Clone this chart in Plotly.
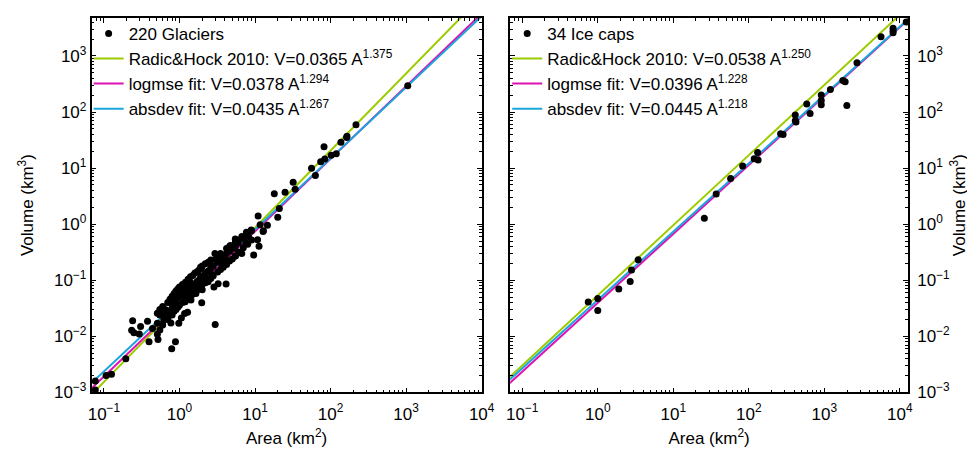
import plotly.graph_objects as go

# glaciers: area (km2) and volume (km3)
glacier_area = [
    1050, 217, 165, 163, 137, 82, 74, 84, 102, 119, 56, 63,
    32, 34, 18, 25, 21, 20, 11, 11.7, 14.6, 7.7, 8.9, 12.9,
    0.077, 0.077, 0.107, 0.126, 0.195, 0.24, 0.233, 0.25, 0.306, 0.294,
    0.378, 0.396, 0.44, 0.51, 0.51, 0.52, 0.51, 0.62, 0.62, 0.655,
    0.79, 0.885, 0.77, 0.74, 0.81, 0.98, 1.06, 1.17, 1.28, 0.885,
    0.95, 1.10, 1.19, 1.42, 1.42, 1.65, 1.97, 1.95, 2.22, 2.67,
    2.86, 3.25, 2.97, 4.14, 3.0, 2.95, 3.66, 4.05, 4.72, 5.48,
    6.68, 7.55, 9.6, 11.3, 10.8, 12.8, 5.48, 6.7, 8.2,
    0.55, 0.55, 0.55, 0.6, 0.6, 0.6, 0.7, 0.7, 0.7, 0.75, 0.75,
    0.8, 0.8, 0.8, 0.85, 0.85, 0.85, 0.9, 0.9, 0.9, 0.95, 0.95, 0.95,
    1.0, 1.0, 1.0, 1.0, 1.1, 1.1, 1.1, 1.1, 1.2, 1.2, 1.2, 1.2,
    1.3, 1.3, 1.3, 1.3, 1.4, 1.4, 1.4, 1.4, 1.5, 1.5, 1.5,
    1.6, 1.6, 1.6, 1.7, 1.7, 1.7, 1.8, 1.8, 1.8, 1.9, 1.9, 1.9,
    2.0, 2.0, 2.0, 2.0, 2.2, 2.2, 2.2, 2.4, 2.4, 2.4, 2.6, 2.6, 2.6,
    2.8, 2.8, 3.2, 3.2, 3.2, 3.5, 3.5, 3.5, 3.8, 3.8,
    4.2, 4.2, 4.2, 4.6, 4.6, 4.6, 5.0, 5.0, 5.5, 5.5, 5.5,
    6.0, 6.0, 6.0, 7.0, 7.0, 8.0, 8.0, 9.0, 9.0,
]
glacier_volume = [
    295, 59, 37, 35, 29, 24, 13, 14.5, 17, 18, 9.9, 7.4,
    5.6, 4.2, 3.5, 3.7, 1.9, 1.33, 1.4, 0.98, 0.96, 0.72, 0.79, 0.76,
    0.0016, 0.0011, 0.002, 0.0021, 0.004, 0.019, 0.0128, 0.0116, 0.015, 0.011,
    0.0186, 0.008, 0.0138, 0.0171, 0.0109, 0.0088, 0.0259, 0.0246, 0.0196, 0.0297,
    0.006, 0.008, 0.0173, 0.0285, 0.036, 0.0171, 0.0212, 0.0256, 0.027, 0.0543,
    0.062, 0.083, 0.0415, 0.0444, 0.0708, 0.058, 0.0398, 0.164, 0.106, 0.126,
    0.076, 0.0865, 0.0163, 0.0855, 0.236, 0.30, 0.193, 0.243, 0.415, 0.271,
    0.30, 0.462, 0.282, 0.405, 0.528, 0.74, 0.543, 0.605, 0.605,
    0.024, 0.013, 0.030, 0.026, 0.016, 0.034, 0.040, 0.020, 0.028, 0.046, 0.024,
    0.036, 0.024, 0.052, 0.040, 0.058, 0.028, 0.044, 0.064, 0.030, 0.050, 0.070, 0.033,
    0.052, 0.076, 0.036, 0.062, 0.054, 0.084, 0.040, 0.068, 0.058, 0.092, 0.044, 0.076,
    0.064, 0.104, 0.048, 0.082, 0.070, 0.116, 0.052, 0.090, 0.080, 0.056, 0.122,
    0.086, 0.134, 0.062, 0.094, 0.066, 0.140, 0.100, 0.070, 0.150, 0.112, 0.076, 0.170,
    0.118, 0.084, 0.180, 0.068, 0.134, 0.090, 0.196, 0.146, 0.094, 0.210, 0.166, 0.108, 0.230,
    0.180, 0.120, 0.210, 0.140, 0.250, 0.230, 0.155, 0.300, 0.260, 0.170,
    0.300, 0.190, 0.370, 0.330, 0.220, 0.400, 0.370, 0.240, 0.410, 0.270, 0.480,
    0.460, 0.320, 0.520, 0.560, 0.380, 0.660, 0.440, 0.760, 0.520,
]

# ice caps
icecap_area = [
    12170, 8150, 8150, 8150, 5640, 2710, 1760, 1890, 1990, 1205, 912, 912,
    912, 586, 649, 413, 413, 422, 264, 285, 131, 118, 133, 83,
    57.5, 37, 25.8, 3.43, 2.80, 2.69, 1.90, 1.0, 1.0, 0.748,
]
icecap_volume = [
    4020, 3100, 2800, 2580, 2200, 752, 365, 346, 130, 251, 200, 161,
    134, 139, 94, 88, 70, 66, 41, 39.5, 18.9, 14.7, 13.9, 10.9,
    6.5, 3.45, 1.28, 0.231, 0.152, 0.095, 0.070, 0.0473, 0.0289, 0.041,
]

fit_names = ["Radic&Hock 2010", "logmse fit", "absdev fit"]
fit_colors = ["#9ccc00", "#e010b4", "#1aa6dc"]
glacier_coef = [0.0365, 0.0378, 0.0435]
glacier_exp = [1.375, 1.294, 1.267]
icecap_coef = [0.0538, 0.0396, 0.0445]
icecap_exp = [1.250, 1.228, 1.218]
area_span = [0.05, 20000]

x_ticks = [0.1, 1, 10, 100, 1000, 10000]
x_ticklabels = ["10<sup>−1</sup>", "10<sup>0</sup>", "10<sup>1</sup>",
                "10<sup>2</sup>", "10<sup>3</sup>", "10<sup>4</sup>"]
y_ticks = [0.001, 0.01, 0.1, 1, 10, 100, 1000]
y_ticklabels = ["10<sup>−3</sup>", "10<sup>−2</sup>", "10<sup>−1</sup>", "10<sup>0</sup>",
                "10<sup>1</sup>", "10<sup>2</sup>", "10<sup>3</sup>"]

FONT = "Arial, Liberation Sans, Helvetica, sans-serif"


def add_panel(fig, col, area, volume, label, coefs, exps, legend):
    xa = "x" if col == 1 else "x2"
    ya = "y" if col == 1 else "y2"
    for name, color, c, b, rank in zip(fit_names, fit_colors, coefs, exps, [2, 3, 4]):
        fig.add_trace(go.Scatter(
            x=area_span, y=[c * a ** b for a in area_span],
            mode="lines", line=dict(color=color, width=2),
            name=f"{name}: V={c:.4f} A<sup>{b:.3f}</sup>",
            xaxis=xa, yaxis=ya, legend=legend, legendrank=rank,
        ))
    fig.add_trace(go.Scatter(
        x=area, y=volume, mode="markers",
        marker=dict(color="black", size=7),
        name=label, xaxis=xa, yaxis=ya, legend=legend, legendrank=1,
    ))


fig = go.Figure()
add_panel(fig, 1, glacier_area, glacier_volume, "220 Glaciers",
          glacier_coef, glacier_exp, "legend")
add_panel(fig, 2, icecap_area, icecap_volume, "34 Ice caps",
          icecap_coef, icecap_exp, "legend2")

axis_common = dict(
    type="log", showgrid=False, zeroline=False, showline=True,
    linecolor="black", linewidth=1.5, mirror="allticks",
    ticks="inside", ticklen=5, tickcolor="black",
    tickfont=dict(size=17, color="black", family=FONT),
    minor=dict(ticks="inside", ticklen=3, tickcolor="black", dtick="D1", showgrid=False),
)
title_font = dict(size=17, color="black", family=FONT)
legend_common = dict(
    bgcolor="rgba(0,0,0,0)", font=dict(size=17, color="black", family=FONT),
    xanchor="left", yanchor="top", y=1 - 8 / 458, tracegroupgap=0,
)

fig.update_layout(
    width=975, height=458,
    margin=dict(l=0, r=0, t=0, b=0),
    paper_bgcolor="white", plot_bgcolor="white",
    font=dict(family=FONT, color="black", size=17),
    xaxis=dict(axis_common, domain=[81 / 975, 478 / 975], range=[-1.163, 4.0],
               tickvals=x_ticks, ticktext=x_ticklabels, ticklabelstandoff=5,
               title=dict(text="Area (km<sup>2</sup>)", font=title_font, standoff=10)),
    yaxis=dict(axis_common, domain=[1 - 393 / 458, 1 - 10 / 458], range=[-3, 3.68],
               tickvals=y_ticks, ticktext=y_ticklabels,
               title=dict(text="Volume (km<sup>3</sup>)", font=title_font, standoff=16)),
    xaxis2=dict(axis_common, domain=[507 / 975, 912 / 975], range=[-1.16, 4.11], anchor="y2",
                tickvals=x_ticks, ticktext=x_ticklabels, ticklabelstandoff=5,
                title=dict(text="Area (km<sup>2</sup>)", font=title_font, standoff=10)),
    yaxis2=dict(axis_common, domain=[1 - 393 / 458, 1 - 10 / 458], range=[-3, 3.68],
                anchor="x2", side="right", tickvals=y_ticks, ticktext=y_ticklabels,
                ticklabelstandoff=4,
                title=dict(text="Volume (km<sup>3</sup>)", font=title_font, standoff=4)),
    legend=dict(legend_common, x=78 / 975),
    legend2=dict(legend_common, x=504 / 975),
    showlegend=True,
)

fig.write_html("out.html")
